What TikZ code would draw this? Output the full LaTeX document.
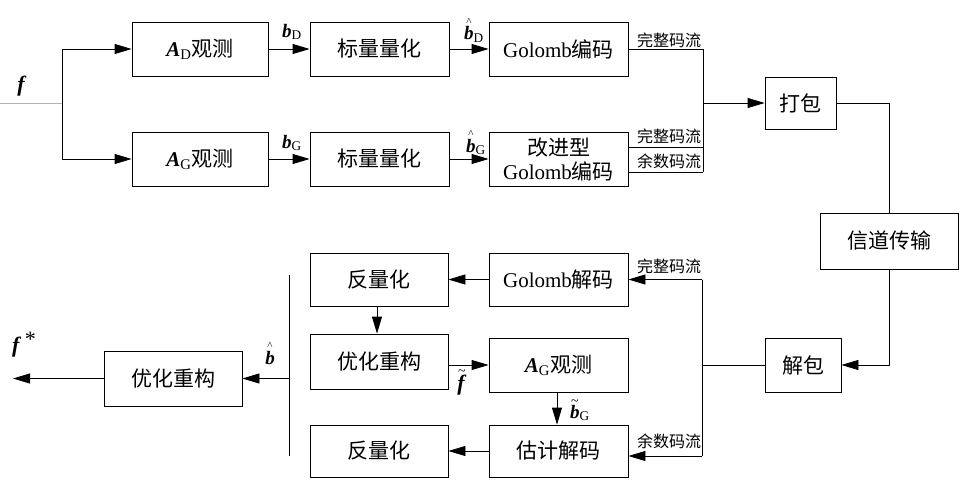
\documentclass[tikz,border=0pt]{standalone}
\usepackage{fontspec}
\setmainfont{Liberation Serif}
\newfontfamily\cjk{Noto Sans CJK SC}
\usetikzlibrary{arrows.meta}
\newcommand\bi[1]{\textbf{\textit{#1}}}
\newcommand\zh[1]{{\cjk #1}}
\newcommand\hatb{\shortstack{{\fontsize{11}{8}\selectfont\textasciicircum}\\[-2pt]\bi{b}}}
\newcommand\tilb{\shortstack{{\fontsize{14}{8}\selectfont\textasciitilde}\\[-4pt]\bi{b}}}
\newcommand\tilf{\shortstack{{\fontsize{14}{8}\selectfont\textasciitilde}\\[-4pt]\bi{f}}}
\begin{document}
\begin{tikzpicture}[x=1pt,y=-1pt,
  >={Triangle[length=17pt,width=10pt]},
  line width=0.8pt,
  blk/.style={draw, inner sep=0pt, align=center, minimum height=54pt, font=\fontsize{21}{24}\selectfont},
  lab/.style={inner sep=0pt, font=\fontsize{19}{22}\selectfont},
  small/.style={inner sep=0pt, font=\fontsize{16}{17}\selectfont}]
\useasboundingbox (0,0) rectangle (960,484);
% top branch
\node[blk, minimum width=136pt] (aD) at (200,49) {\bi{A}\textsubscript{D}\zh{观测}};
\node[blk, minimum width=139pt] (q1) at (379.5,49) {\zh{标量量化}};
\node[blk, minimum width=139pt] (g1) at (558.5,49) {Golomb\zh{编码}};
\node[blk, minimum width=136pt] (aG) at (200,159) {\bi{A}\textsubscript{G}\zh{观测}};
\node[blk, minimum width=139pt] (q2) at (379.5,159) {\zh{标量量化}};
\node[blk, minimum width=139pt, font=\fontsize{21}{24}\selectfont] (g2) at (558.5,159) {\zh{改进型}\\Golomb\zh{编码}};
\node[blk, minimum width=71pt, minimum height=52pt] (pack) at (800.5,103) {\zh{打包}};
\node[blk, minimum width=138pt, minimum height=56pt] (chan) at (889,241) {\zh{信道传输}};
\node[blk, minimum width=76pt] (unpack) at (803,365) {\zh{解包}};
% bottom
\node[blk, minimum width=139pt, minimum height=53pt] (gdec) at (558.5,279.5) {Golomb\zh{解码}};
\node[blk, minimum width=138pt, minimum height=53pt] (iq1) at (379,279.5) {\zh{反量化}};
\node[blk, minimum width=138pt, minimum height=55pt] (opt1) at (379,361.5) {\zh{优化重构}};
\node[blk, minimum width=139pt] (aG2) at (558.5,365) {\bi{A}\textsubscript{G}\zh{观测}};
\node[blk, minimum width=139pt, minimum height=52pt] (est) at (558.5,451) {\zh{估计解码}};
\node[blk, minimum width=138pt, minimum height=52pt] (iq2) at (379,451) {\zh{反量化}};
\node[blk, minimum width=138pt, minimum height=55pt] (opt2) at (173,378.5) {\zh{优化重构}};
% coordinates
\coordinate (fin) at (0,103);
\coordinate (split) at (62,103);
\coordinate (m1) at (703,49);
\coordinate (m2) at (703,172);
\coordinate (m3) at (703,103);
\coordinate (m4) at (703,147);
\coordinate (n0) at (702,365);
\coordinate (n1) at (702,279.5);
\coordinate (n2) at (702,456);
\coordinate (v1) at (289,275);
\coordinate (v2) at (289,456);
\coordinate (v3) at (289,378.5);
\coordinate (fout) at (13,378.5);
% connectors top
\draw[gray!60, line width=0.5pt] (fin) -- (split);
\draw[->] (split) |- (aD);
\draw[->] (split) |- (aG);
\draw[->] (aD) -- (q1);
\draw[->] (q1) -- (g1);
\draw[->] (aG) -- (q2);
\draw[->] (q2) -- (g2);
\draw (g1) -- (m1) -- (m2);
\draw (g2.east |- m4) -- (m4);
\draw (g2.east |- m2) -- (m2);
\draw[->] (m3) -- (pack);
\draw (pack) -| (chan);
\draw[->] (chan) |- (unpack);
% connectors bottom
\draw (unpack) -- (n0);
\draw (n1) -- (n2);
\draw[->] (n1) -- (gdec);
\draw[->] (n2) -- (est.east |- n2);
\draw[->] (gdec) -- (iq1);
\draw[->] (iq1.south -| 377,0) -- (opt1.north -| 377,0);
\draw[->] (opt1.east |- aG2) -- (aG2);
\draw[->] (aG2.south -| 557,0) -- (est.north -| 557,0);
\draw[->] (est) -- (iq2);
\draw (v1) -- (v2);
\draw[->] (v3) -- (opt2);
\draw[->] (opt2) -- (fout);
% labels
\node[lab, font=\fontsize{22}{24}\selectfont] at (22,86) {\bi{f}};
\node[lab] at (292,32) {\bi{b}\textsubscript{D}};
\node[lab] at (292,143) {\bi{b}\textsubscript{G}};
\node[lab, anchor=base] at (474,40) {\hatb\textsubscript{D}};
\node[lab, anchor=base] at (476,152) {\hatb\textsubscript{G}};
\node[small] at (669,40) {\zh{完整码流}};
\node[small] at (669,136) {\zh{完整码流}};
\node[small] at (669,161) {\zh{余数码流}};
\node[small] at (669,266) {\zh{完整码流}};
\node[small] at (669,441) {\zh{余数码流}};
\node[lab, anchor=base] at (270,364) {\hatb};
\node[lab, font=\fontsize{22}{24}\selectfont] at (24,345) {\bi{f}\,\raisebox{0.6ex}{*}};
\node[lab, font=\fontsize{22}{24}\selectfont, anchor=base] at (462,390) {\tilf};
\node[lab, anchor=base] at (580,418) {\tilb\textsubscript{G}};
\end{tikzpicture}
\end{document}
